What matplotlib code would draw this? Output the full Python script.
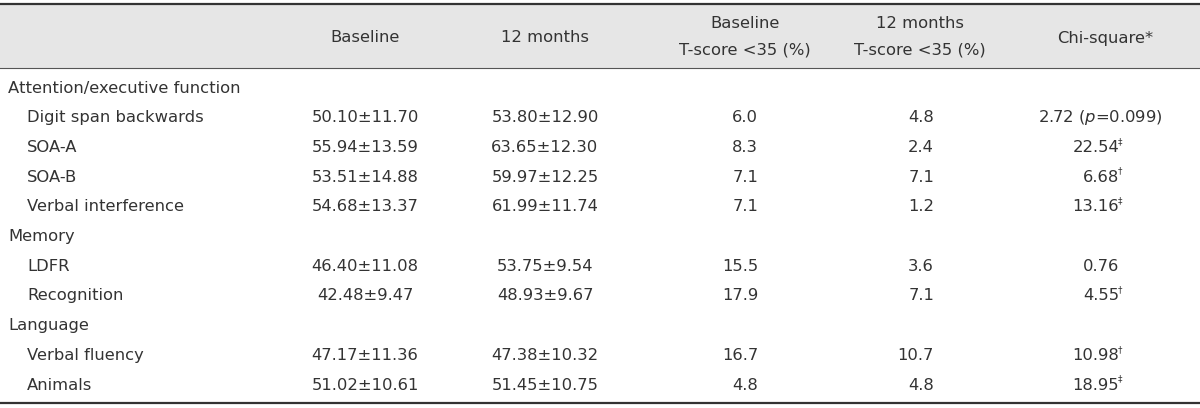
import matplotlib
matplotlib.use("Agg")
import matplotlib.pyplot as plt

# table content
header_top = ["", "Baseline", "12 months", "Baseline", "12 months", "Chi-square*"]
header_bottom = ["", "", "", "T-score <35 (%)", "T-score <35 (%)", ""]

row_labels = ["Attention/executive function", "Digit span backwards", "SOA-A", "SOA-B",
              "Verbal interference", "Memory", "LDFR", "Recognition", "Language",
              "Verbal fluency", "Animals"]
is_group = [True, False, False, False, False, True, False, False, True, False, False]

baseline = ["", "50.10±11.70", "55.94±13.59", "53.51±14.88", "54.68±13.37", "",
            "46.40±11.08", "42.48±9.47", "", "47.17±11.36", "51.02±10.61"]
month12 = ["", "53.80±12.90", "63.65±12.30", "59.97±12.25", "61.99±11.74", "",
           "53.75±9.54", "48.93±9.67", "", "47.38±10.32", "51.45±10.75"]
base_pct = ["", "6.0", "8.3", "7.1", "7.1", "", "15.5", "17.9", "", "16.7", "4.8"]
m12_pct = ["", "4.8", "2.4", "7.1", "1.2", "", "3.6", "7.1", "", "10.7", "4.8"]
chi_val = ["", "2.72", "22.54", "6.68", "13.16", "", "0.76", "4.55", "", "10.98", "18.95"]
chi_mark = ["", "", "‡", "†", "‡", "", "", "†", "", "†", "‡"]

plt.rcParams['font.family'] = ['DejaVu Sans']
plt.rcParams['mathtext.fontset'] = 'custom'
plt.rcParams['mathtext.it'] = 'DejaVu Sans:italic'
plt.rcParams['mathtext.rm'] = 'DejaVu Sans'

W, H = 1200, 408
fig = plt.figure(figsize=(W / 100, H / 100), dpi=100)
ax = fig.add_axes([0, 0, 1, 1])
ax.set_xlim(0, W)
ax.set_ylim(H, 0)
ax.axis('off')

fs = 11.8
col = '#333333'

# header band
ax.axhspan(4, 68, color='#e6e6e6', lw=0)
ax.axhline(4, color='#333333', lw=1.6)
ax.axhline(68, color='#555555', lw=0.8)
ax.axhline(403, color='#333333', lw=1.6)

col_x = [0, 365, 545, 745, 920, 1105]
for i in range(1, 6):
    if header_bottom[i]:
        ax.text(col_x[i], 24, header_top[i], ha='center', va='center', fontsize=fs, color=col)
        ax.text(col_x[i], 50, header_bottom[i], ha='center', va='center', fontsize=fs, color=col)
    else:
        ax.text(col_x[i], 38, header_top[i], ha='center', va='center', fontsize=fs, color=col)

y0, dy = 88, 29.7
for r, lab in enumerate(row_labels):
    y = y0 + r * dy
    ax.text(8 if is_group[r] else 27, y, lab, ha='left', va='center', fontsize=fs, color=col)
    if is_group[r]:
        continue
    ax.text(365, y, baseline[r], ha='center', va='center', fontsize=fs, color=col)
    ax.text(545, y, month12[r], ha='center', va='center', fontsize=fs, color=col)
    ax.text(758, y, base_pct[r], ha='right', va='center', fontsize=fs, color=col)
    ax.text(934, y, m12_pct[r], ha='right', va='center', fontsize=fs, color=col)
    if r == 1:
        ax.text(1100, y, chi_val[r] + r" ($\it{p}$=0.099)", ha='center', va='center',
                fontsize=fs, color=col)
    else:
        ax.text(1119, y, chi_val[r], ha='right', va='center', fontsize=fs, color=col)
        if chi_mark[r]:
            ax.text(1118, y - 6, chi_mark[r], ha='left', va='center', fontsize=fs * 0.55,
                    color=col)

fig.savefig('out.png', dpi=100, facecolor='white')
